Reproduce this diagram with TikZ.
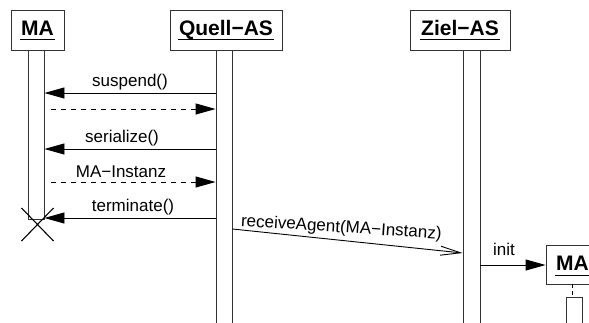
\documentclass[tikz,border=0pt]{standalone}
\usepackage{fontspec}
\setmainfont{Liberation Sans}
\usetikzlibrary{arrows.meta}

\tikzset{
  objbox/.style={draw=black!80, line width=0.9pt, fill=white, inner sep=0pt, minimum height=40pt},
  title/.style={font=\fontsize{21}{24}\selectfont\bfseries, inner sep=0pt, anchor=base},
  lbl/.style={font=\fontsize{17}{20}\selectfont, inner sep=0pt, anchor=base},
  actbar/.style={draw=black!80, line width=0.9pt, fill=white, inner sep=0pt, minimum width=16pt},
  msg/.style={line width=0.9pt, -{Triangle[length=20pt,width=11pt]}},
  reply/.style={msg, dash pattern=on 5pt off 5pt},
  asyncmsg/.style={line width=0.9pt, -{Straight Barb[length=20pt,width=9pt]}},
  uline/.style={line width=0.9pt}
}

\begin{document}
\begin{tikzpicture}[x=1pt,y=-1pt]
\useasboundingbox (0,0) rectangle (589,322);
\clip (0,0) rectangle (589,322);

% activation bars (lifelines)
\node[actbar, minimum height=169pt] (maBar) at (36,134.5) {};
\node[actbar, minimum height=280pt] (quellBar) at (224,190) {};
\node[actbar, minimum width=17pt, minimum height=280pt] (zielBar) at (471.5,190) {};

% object boxes
\node[objbox, minimum width=53pt] (maBox) at (37.5,30) {};
\node[objbox, minimum width=112pt] (quellBox) at (226,30) {};
\node[objbox, minimum width=100pt] (zielBox) at (460,30) {};

\node[title] (maT) at (37.5,35) {MA};
\node[title] (quellT) at (226,35) {Quell−AS};
\node[title] (zielT) at (460,35) {Ziel−AS};
\foreach \t in {maT,quellT,zielT}
  \draw[uline] ([xshift=-1pt,yshift=-4.5pt]\t.base west) -- ([xshift=1pt,yshift=-4.5pt]\t.base east);

% message rows
\coordinate (r1) at (0,93);
\coordinate (r2) at (0,109);
\coordinate (r3) at (0,149);
\coordinate (r4) at (0,182);
\coordinate (r5) at (0,218);

\draw[msg] (quellBar.west |- r1) -- (maBar.east |- r1);
\node[lbl] (l1) at (130,86) {suspend()};
\draw[reply] ([xshift=7pt]maBar.east |- r2) -- (quellBar.west |- r2);

\draw[msg] (quellBar.west |- r3) -- (maBar.east |- r3);
\node[lbl] (l3) at (122,142.5) {serialize()};

\draw[reply] ([xshift=7pt]maBar.east |- r4) -- (quellBar.west |- r4);
\node[lbl] (l4) at (121,177) {MA−Instanz};

\draw[msg] (quellBar.west |- r5) -- (maBar.east |- r5);
\node[lbl] (l5) at (133,211.5) {terminate()};

% destruction mark
\coordinate (xmark) at (37.5,224.5);
\draw[line width=1.1pt] ([shift={(-16,-16.5)}]xmark) -- ([shift={(16,16.5)}]xmark);
\draw[line width=1.1pt] ([shift={(16,-16.5)}]xmark) -- ([shift={(-16,16.5)}]xmark);

% agent transfer
\coordinate (s1) at (0,229);
\coordinate (s2) at (0,253);
\draw[asyncmsg] (quellBar.east |- s1) -- (zielBar.west |- s2);
\node[lbl, rotate=-3.7] (l6) at (341,232.5) {receiveAgent(MA−Instanz)};

% new agent instance
\node[objbox, minimum width=53pt, minimum height=39pt] (maNew) at (572.5,264.5) {};
\node[title] (maNewT) at (572.5,270) {MA};
\draw[uline] ([xshift=-1pt,yshift=-5pt]maNewT.base west) -- ([xshift=1pt,yshift=-5pt]maNewT.base east);
\node[actbar, minimum height=40pt] (maNewBar) at (574,317) {};
\draw[line width=0.9pt, dash pattern=on 4pt off 3pt] (maNew.south -| 572.5,0) -- (maNewBar.north -| 572.5,0);

\coordinate (r6) at (0,265);
\draw[msg] (zielBar.east |- r6) -- (maNew.west |- r6);
\node[lbl] (l7) at (504,255) {init};
\end{tikzpicture}
\end{document}
